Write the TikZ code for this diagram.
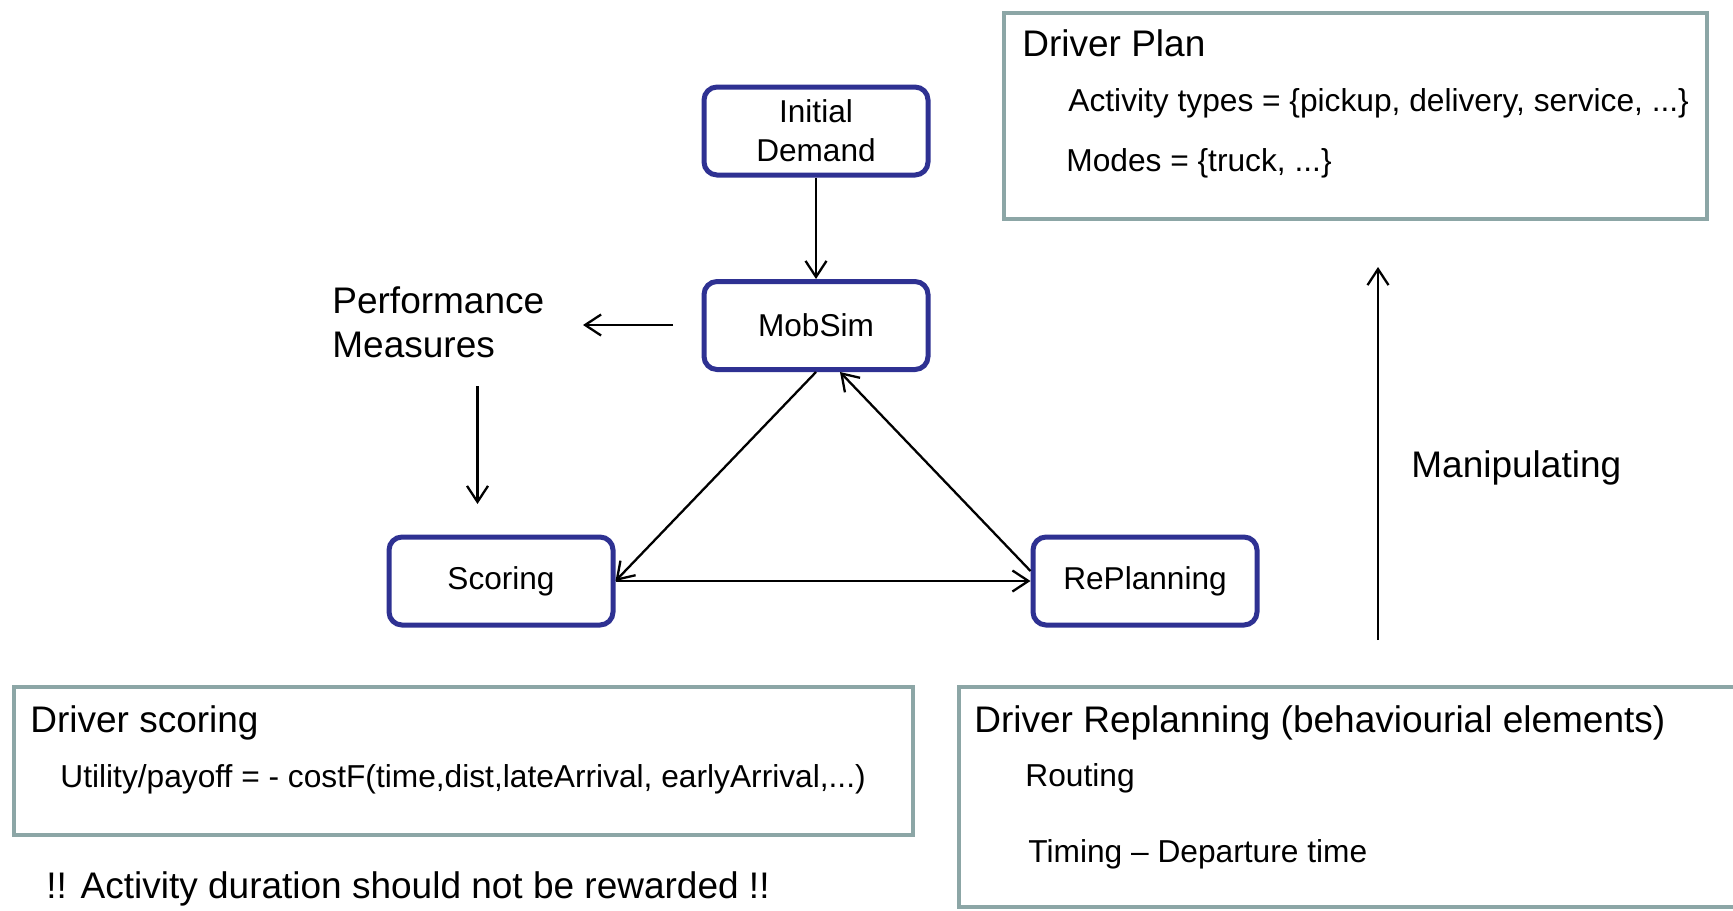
\documentclass[tikz,border=0pt]{standalone}
\usepackage{fontspec}
\setmainfont{Liberation Sans}
\usetikzlibrary{arrows.meta}
\definecolor{stageblue}{RGB}{46,49,146}
\definecolor{panelgray}{RGB}{140,166,166}
\tikzset{
  stage/.style={draw=stageblue, line width=2.5pt, rounded corners=6.5pt,
    minimum width=112pt, minimum height=44pt, inner sep=0pt, align=center,
    font=\fontsize{15.8}{19.3}\selectfont},
  flow/.style={line width=1.15pt, -{Straight Barb[length=8pt,width=10.5pt]}},
  panel/.style={draw=panelgray, line width=2pt},
  title/.style={anchor=base west, inner sep=0pt, font=\fontsize{18.5}{22}\selectfont},
  body/.style={anchor=base west, inner sep=0pt, font=\fontsize{15.85}{19}\selectfont},
}
\begin{document}
\begin{tikzpicture}[x=0.5pt,y=-0.5pt]
\useasboundingbox (0,0) rectangle (1733,910);
\clip (0,0) rectangle (1733,910);

% simulation loop
\node[stage] (init)   at (816,131)   {Initial\\Demand};
\node[stage] (mob)    at (816,325.5) {MobSim};
\node[stage] (score)  at (501,581)   {Scoring};
\node[stage] (replan) at (1145,581)  {RePlanning};

\draw[flow] (init) -- (mob);
\draw[flow] (mob.south) -- (score.east);
\draw[flow] ([yshift=5pt]replan.west) -- ([xshift=12pt]mob.south);
\draw[flow] (score.east) -- (replan.west);

% performance measures (base anchor sits on the last line)
\node[title, align=left] (perf) at (332,357) {Performance\\Measures};
\coordinate (perfIn)   at (673,325);
\coordinate (perfOut)  at (583,325);
\coordinate (perfTop)  at (477.5,386);
\coordinate (perfDown) at (477.5,504);
\draw[flow] (perfIn) -- (perfOut);
\draw[flow] (perfTop) -- (perfDown);

% manipulation of the plan
\coordinate (manipFrom) at (1378,640);
\coordinate (manipTo)   at (1378,267);
\draw[flow] (manipFrom) -- (manipTo);
\node[title] (manip) at (1411,477) {Manipulating};

% driver plan panel
\draw[panel] (1004,13) rectangle (1707,219);
\node[title] (planTitle) at (1022,56)  {Driver Plan};
\node[body]  (planAct)   at (1068,111) {Activity types = \{pickup, delivery, service, ...\}};
\node[body]  (planMode)  at (1066,171) {Modes = \{truck, ...\}};

% driver scoring panel
\draw[panel] (14,687) rectangle (913,835);
\node[title] (scoreTitle) at (30,732) {Driver scoring};
\node[body]  (scoreUtil)  at (60,787) {Utility/payoff = - costF(time,dist,lateArrival, earlyArrival,...)};
\node[title] (scoreNote)  at (46,898) {!! Activity duration should not be rewarded !!};

% driver replanning panel
\draw[panel] (959,687) rectangle (1780,907);
\node[title] (repTitle)  at (974,732)  {Driver Replanning (behaviourial elements)};
\node[body]  (repRoute)  at (1025,786) {Routing};
\node[body]  (repTiming) at (1028,862) {Timing – Departure time};
\end{tikzpicture}
\end{document}
